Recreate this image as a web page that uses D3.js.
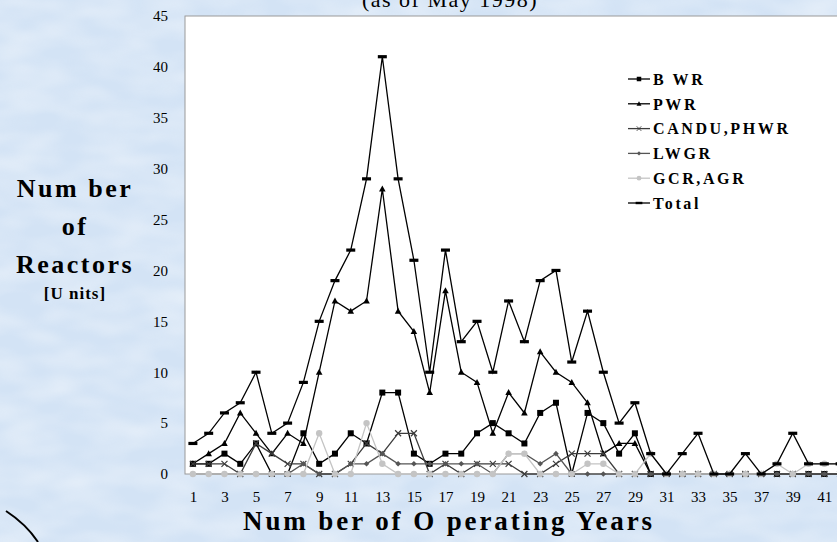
<html>
<head>
<script src="https://d3js.org/d3.v7.min.js"></script>
<style>
  body { margin: 0; background: #d4e4f5; }
  svg { display: block; }
  .tick text { font-family: "Liberation Serif", "Times New Roman", serif; font-size: 15px; fill: #000; }
  .lbl { font-family: "Liberation Serif", "Times New Roman", serif; font-weight: bold; fill: #000; }
</style>
</head>
<body>
<svg id="chart" width="837" height="542"></svg>
<script>
// operating years (categories) and reactor counts
const years = [1,2,3,4,5,6,7,8,9,10,11,12,13,14,15,16,17,18,19,20,21,
               22,23,24,25,26,27,28,29,30,31,32,33,34,35,36,37,38,39,40,41,42];
const xTicks = [1,3,5,7,9,11,13,15,17,19,21,23,25,27,29,31,33,35,37,39,41];
const yTicks = [0,5,10,15,20,25,30,35,40,45];

const bwr   = [1,1,2,1,3,0,0,4,1,2,4,3,8,8,2,1,2,2,4,5,4,3,6,7,0,6,5,2,4,0,0,0,0,0,0,0,0,0,0,0,0,0];
const pwr   = [1,2,3,6,4,2,4,3,10,17,16,17,28,16,14,8,18,10,9,4,8,6,12,10,9,7,2,3,3,0,0,0,0,0,0,0,0,0,0,0,0,0];
const candu = [1,1,1,0,3,2,1,1,0,0,1,3,2,4,4,0,1,0,1,1,1,0,0,1,2,2,2,0,0,0,0,0,0,0,0,0,0,0,0,0,0,0];
const lwgr  = [0,0,0,0,0,0,0,1,0,0,1,1,2,1,1,1,1,1,1,0,2,2,1,2,0,0,0,0,0,0,0,0,0,0,0,0,0,0,0,0,0,0];
const gcr   = [0,0,0,0,0,0,0,0,4,0,0,5,1,0,0,0,0,0,0,0,2,2,0,0,0,1,1,0,0,2,0,0,0,0,0,0,0,1,0,1,1,1];
const total = [3,4,6,7,10,4,5,9,15,19,22,29,41,29,21,10,22,13,15,10,17,13,19,20,11,16,10,5,7,2,0,2,4,0,0,2,0,1,4,1,1,1];

const series = [
  {name: "B WR",        values: bwr,   stroke: "#000",    marker: "square"},
  {name: "PWR",         values: pwr,   stroke: "#000",    marker: "triangle"},
  {name: "CANDU,PHWR",  values: candu, stroke: "#3c3c3c", marker: "cross"},
  {name: "LWGR",        values: lwgr,  stroke: "#555",    marker: "diamond"},
  {name: "GCR,AGR",     values: gcr,   stroke: "#c4c4c4", marker: "circle"},
  {name: "Total",       values: total, stroke: "#000",    marker: "dash"}
];

const svg = d3.select("#chart");
const plot = {left: 185, top: 16, right: 848, bottom: 474};

// textured light blue background
const defs = svg.append("defs");
const f = defs.append("filter").attr("id", "tex").attr("x", 0).attr("y", 0).attr("width", 1).attr("height", 1);
f.append("feTurbulence").attr("type", "fractalNoise").attr("baseFrequency", "0.02 0.045")
  .attr("numOctaves", 2).attr("seed", 7);
f.append("feColorMatrix").attr("type", "matrix")
  .attr("values", "0 0 0 0 1  0 0 0 0 1  0 0 0 0 1  1.6 0 0 0 -0.5");
svg.append("rect").attr("width", 837).attr("height", 542).attr("fill", "#d3e3f5");
svg.append("rect").attr("width", 837).attr("height", 542).attr("filter", "url(#tex)").attr("opacity", 0.4);

// decoration curve bottom left
svg.append("path").attr("d", "M6,511 Q26,524 38,542")
  .attr("fill", "none").attr("stroke", "#000").attr("stroke-width", 2);

// title (cut at the top)
svg.append("text").attr("class", "lbl").attr("x", 450).attr("y", 7)
  .attr("text-anchor", "middle").style("font-weight", "normal")
  .style("font-size", "22px").style("letter-spacing", "1.5px")
  .text("(as of May 1998)");

const x = d3.scalePoint().domain(years).range([plot.left, plot.right]).padding(0.5);
const y = d3.scaleLinear().domain([0, 45]).range([plot.bottom, plot.top]);

svg.append("rect")
  .attr("x", plot.left).attr("y", plot.top)
  .attr("width", plot.right - plot.left).attr("height", plot.bottom - plot.top)
  .attr("fill", "#fff").attr("stroke", "#9a9a9a").attr("stroke-width", 1);

const xAxis = svg.append("g").attr("transform", `translate(0,${plot.bottom})`)
  .call(d3.axisBottom(x).tickValues(xTicks).tickSize(0).tickPadding(17));
xAxis.select(".domain").remove();

const yAxis = svg.append("g").attr("transform", `translate(${plot.left},0)`)
  .call(d3.axisLeft(y).tickValues(yTicks).tickSize(0).tickPadding(17));
yAxis.select(".domain").remove();

// axis titles
svg.append("text").attr("class", "lbl").attr("x", 449).attr("y", 530)
  .attr("text-anchor", "middle").style("font-size", "27px").style("letter-spacing", "2.9px")
  .text("Num ber of O perating Years");

const yTitle = [
  {t: "Num ber", y: 197, s: 26},
  {t: "of", y: 235, s: 26},
  {t: "Reactors", y: 273, s: 26},
  {t: "[U nits]", y: 299, s: 17}
];
svg.selectAll("text.ytitle").data(yTitle).join("text")
  .attr("class", "lbl ytitle").attr("x", 75).attr("y", d => d.y)
  .attr("text-anchor", "middle").style("font-size", d => d.s + "px")
  .style("letter-spacing", d => d.s > 20 ? "2.5px" : "1px")
  .text(d => d.t);

// lines and markers
const clip = defs.append("clipPath").attr("id", "clip");
clip.append("rect").attr("x", 0).attr("y", 0).attr("width", 837).attr("height", 542);

const line = d3.line().x((d, i) => x(years[i])).y(d => y(d));
const chart = svg.append("g").attr("clip-path", "url(#clip)");

function drawMarker(g, type, color) {
  if (type === "square") {
    g.append("rect").attr("x", -3).attr("y", -3).attr("width", 6).attr("height", 6).attr("fill", color);
  } else if (type === "triangle") {
    g.append("path").attr("d", "M0,-3.5L3.3,2.5L-3.3,2.5Z").attr("fill", color);
  } else if (type === "cross") {
    g.append("path").attr("d", "M-3,-3L3,3M-3,3L3,-3").attr("stroke", color).attr("stroke-width", 1.2);
  } else if (type === "diamond") {
    g.append("path").attr("d", "M0,-2.8L2.8,0L0,2.8L-2.8,0Z").attr("fill", color);
  } else if (type === "circle") {
    g.append("circle").attr("r", 3.2).attr("fill", color);
  } else if (type === "dash") {
    g.append("rect").attr("x", -4.5).attr("y", -1.6).attr("width", 9).attr("height", 3.2).attr("fill", color);
  }
}

series.forEach(s => {
  const g = chart.append("g");
  g.append("path").attr("d", line(s.values)).attr("fill", "none")
    .attr("stroke", s.stroke).attr("stroke-width", 1.3);
  g.selectAll("g.m").data(s.values).join("g").attr("class", "m")
    .attr("transform", (d, i) => `translate(${x(years[i])},${y(d)})`)
    .each(function() { drawMarker(d3.select(this), s.marker, s.stroke); });
});

// legend
const legend = svg.append("g").attr("transform", "translate(628,79)");
series.forEach((s, i) => {
  const row = legend.append("g").attr("transform", `translate(0,${i * 24.8})`);
  row.append("line").attr("x1", 0).attr("x2", 22).attr("stroke", s.stroke).attr("stroke-width", 1.3);
  drawMarker(row.append("g").attr("transform", "translate(11,0) scale(0.75)"), s.marker, s.stroke);
  row.append("text").attr("class", "lbl").attr("x", 25).attr("dy", "0.36em")
    .style("font-size", "16px").style("letter-spacing", "2.6px").text(s.name);
});
</script>
</body>
</html>
